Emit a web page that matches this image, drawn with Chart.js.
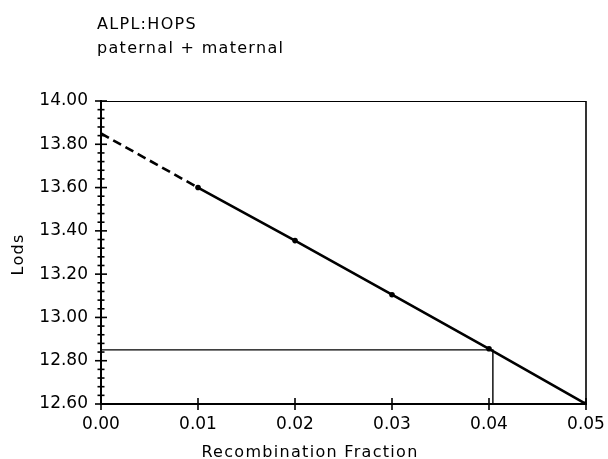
<!DOCTYPE html>
<html>
<head>
<meta charset="utf-8">
<script src="https://cdn.jsdelivr.net/npm/chart.js@4.4.0/dist/chart.umd.min.js"></script>
<style>
  html, body { margin: 0; padding: 0; background: #fff; }
  #wrap { width: 608px; height: 459px; position: relative; }
</style>
</head>
<body>
<div id="wrap"><canvas id="c" width="608" height="459"></canvas></div>
<script>
// ---- data ----
const titleLines = ["ALPL:HOPS", "paternal + maternal"];
const xTitle = "Recombination Fraction";
const yTitle = "Lods";
const fractions = [0.00, 0.01, 0.02, 0.03, 0.04, 0.05];
const lods = [13.85, 13.60, 13.355, 13.105, 12.855, 12.60];
const refX = [0.00, 0.0404, 0.0404];
const refY = [12.85, 12.85, 12.60];
const xRange = [0.00, 0.05];
const yRange = [12.60, 14.00];
const xStep = 0.01;
const yMinorStep = 0.04;
const yMajorStep = 0.2;

const FONT = "'DejaVu Sans', sans-serif";

const isMajorY = v => Math.abs(v / yMajorStep - Math.round(v / yMajorStep)) < 1e-6;

const framePlugin = {
  id: 'frame',
  afterDatasetsDraw(chart) {
    const ctx = chart.ctx, a = chart.chartArea;
    const xs = chart.scales.x, ys = chart.scales.y;
    ctx.save();
    ctx.strokeStyle = '#000';
    ctx.lineWidth = 1;
    ctx.beginPath(); ctx.moveTo(a.left, a.top + 0.5); ctx.lineTo(a.right, a.top + 0.5); ctx.stroke();
    ctx.lineWidth = 1.6;
    ctx.beginPath(); ctx.moveTo(a.right, a.top); ctx.lineTo(a.right, a.bottom); ctx.stroke();
    ys.ticks.forEach(t => {
      const y = ys.getPixelForValue(t.value);
      const len = isMajorY(t.value) ? 6 : 3.5;
      ctx.beginPath(); ctx.moveTo(a.left - len, y); ctx.lineTo(a.left + len, y); ctx.stroke();
    });
    xs.ticks.forEach(t => {
      const x = xs.getPixelForValue(t.value);
      ctx.beginPath(); ctx.moveTo(x, a.bottom - 6); ctx.lineTo(x, a.bottom + 6); ctx.stroke();
    });
    ctx.restore();
  },
  afterDraw(chart) {
    const ctx = chart.ctx, a = chart.chartArea;
    ctx.save();
    ctx.fillStyle = '#000';
    ctx.font = "16px " + FONT;
    ctx.letterSpacing = "1.3px";
    ctx.textAlign = 'left';
    ctx.textBaseline = 'alphabetic';
    ctx.fillText(titleLines[0], 97, 29);
    ctx.fillText(titleLines[1], 97, 53);
    ctx.textAlign = 'center';
    ctx.fillText(xTitle, 310, 457);
    ctx.translate(23, (a.top + a.bottom) / 2 + 2);
    ctx.rotate(-Math.PI / 2);
    ctx.fillText(yTitle, 0, 0);
    ctx.restore();
  }
};

new Chart(document.getElementById('c'), {
  type: 'line',
  data: {
    datasets: [
      {
        data: fractions.map((f, i) => ({ x: f, y: lods[i] })),
        borderColor: '#000',
        borderWidth: 2.6,
        pointRadius: fractions.map((f, i) => i === 0 ? 0 : 2.8),
        pointBackgroundColor: '#000',
        pointBorderWidth: 0,
        tension: 0,
        segment: { borderDash: c => c.p0DataIndex === 0 ? [9, 5] : undefined }
      },
      {
        data: refX.map((x, i) => ({ x: x, y: refY[i] })),
        borderColor: '#000',
        borderWidth: 1.4,
        pointRadius: 0,
        tension: 0
      }
    ]
  },
  options: {
    responsive: false,
    animation: false,
    events: [],
    layout: { padding: { top: 101, right: 22, left: 0, bottom: 0 } },
    plugins: { legend: { display: false }, tooltip: { enabled: false } },
    scales: {
      x: {
        type: 'linear',
        min: xRange[0], max: xRange[1],
        afterFit: s => { s.height = 55; s.paddingLeft = 0; s.paddingRight = 0; },
        grid: { display: false, drawTicks: false },
        border: { display: true, color: '#000', width: 2 },
        ticks: {
          stepSize: xStep,
          maxRotation: 0,
          autoSkip: false,
          padding: 10,
          color: '#000',
          font: { family: FONT, size: 17 },
          callback: v => v.toFixed(2)
        }
      },
      y: {
        type: 'linear',
        min: yRange[0], max: yRange[1],
        afterFit: s => { s.width = 101; s.paddingTop = 0; s.paddingBottom = 0; },
        grid: { display: false, drawTicks: false },
        border: { display: true, color: '#000', width: 2 },
        ticks: {
          stepSize: yMinorStep,
          autoSkip: false,
          padding: 13,
          color: '#000',
          font: { family: FONT, size: 17 },
          callback: v => isMajorY(v) ? v.toFixed(2) : ''
        }
      }
    }
  },
  plugins: [framePlugin]
});
</script>
</body>
</html>
